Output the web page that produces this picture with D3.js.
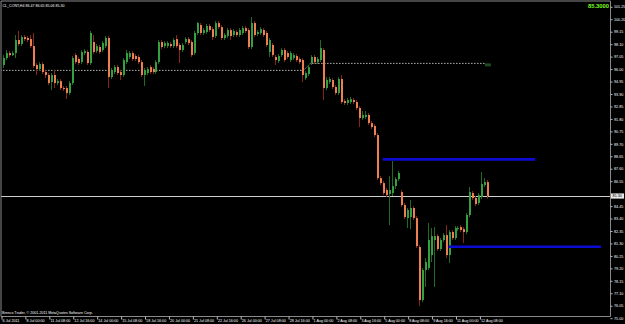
<!DOCTYPE html>
<html>
<head>
<meta charset="utf-8">
<script src="https://cdn.jsdelivr.net/npm/d3@7"></script>
<style>
body { margin: 0; background: #000; }
svg { display: block; }
</style>
</head>
<body>
<script>
// values (H4 bars, 6 Jul - 12 Aug 2011)
var symbol = "CL_CONT,H4";
var lastPrice = 85.30;
var copyright = "Brenco Trader, \u00a9 2001-2011 MetaQuotes Software Corp.";

var opens = [
	96.34, 96.93, 97.35, 97.18, 97.35, 98.45, 98.11, 98.70, 98.62, 98.53,
	97.94, 96.34, 96.00, 96.42, 95.75, 95.50, 94.91, 95.50, 94.82, 94.99,
	94.40, 94.40, 93.98, 94.82, 97.18, 96.85, 96.59, 97.35, 97.44, 96.51,
	98.28, 97.52, 97.86, 97.61, 97.94, 98.62, 95.33, 95.75, 96.17, 95.75,
	95.50, 96.59, 97.02, 97.35, 97.10, 97.02, 96.59, 95.50, 95.67, 96.17,
	96.00, 95.75, 96.59, 98.28, 97.94, 97.94, 98.11, 97.94, 98.53, 98.03,
	97.61, 98.28, 98.53, 98.28, 97.35, 99.04, 99.71, 99.04, 99.12, 99.63,
	99.37, 98.79, 99.88, 99.54, 98.62, 98.79, 99.29, 98.87, 99.12, 98.87,
	99.04, 99.46, 99.29, 97.86, 99.88, 98.95, 99.04, 99.29, 99.04, 97.44,
	98.03, 97.02, 96.68, 97.18, 97.61, 97.35, 96.76, 96.93, 97.10, 96.85,
	96.76, 95.24, 95.58, 96.51, 97.02, 96.59, 96.76, 97.61, 94.40, 94.91,
	95.08, 94.49, 93.98, 95.16, 93.30, 93.14, 93.22, 93.39, 93.22, 92.72,
	91.87, 91.96, 92.13, 91.45, 91.20, 90.44, 86.81, 86.39, 85.80, 85.47,
	85.55, 86.14, 86.73, 85.63, 84.54, 83.44, 83.53, 84.29, 83.44, 81.00,
	76.53, 79.06, 79.23, 80.32, 81.59, 81.92, 80.83, 81.59, 82.01, 80.32,
	82.26, 81.76, 82.51, 82.68, 82.51, 82.26, 83.70, 85.55, 85.13, 84.71,
	85.21, 86.22, 86.47
];
var highs = [
	97.18, 97.61, 97.52, 97.52, 98.87, 99.21, 98.87, 98.87, 98.79, 98.87,
	99.04, 96.51, 96.59, 96.59, 95.92, 95.67, 95.67, 95.92, 95.16, 95.16,
	94.57, 94.57, 94.99, 97.10, 97.35, 97.02, 97.61, 97.69, 97.61, 99.21,
	98.87, 98.11, 98.03, 98.36, 98.79, 98.79, 96.09, 96.34, 96.34, 95.92,
	96.93, 97.61, 97.52, 97.52, 97.27, 97.18, 96.76, 96.09, 96.17, 96.34,
	96.17, 96.76, 98.45, 98.45, 98.36, 98.36, 98.28, 98.62, 98.87, 98.20,
	98.20, 98.70, 98.70, 98.45, 99.21, 99.97, 99.88, 99.46, 99.80, 99.80,
	99.54, 100.05, 100.05, 99.71, 99.04, 99.46, 99.46, 99.37, 99.29, 99.46,
	99.63, 99.63, 99.46, 100.39, 100.05, 99.29, 99.54, 99.46, 99.21, 98.62,
	98.20, 97.18, 97.27, 97.77, 97.77, 97.52, 97.52, 97.35, 97.27, 97.02,
	96.93, 95.83, 96.34, 97.18, 97.18, 97.02, 98.45, 97.77, 95.33, 95.33,
	95.24, 94.65, 95.33, 95.50, 93.47, 93.56, 93.64, 93.56, 93.39, 92.88,
	92.46, 92.46, 92.29, 91.62, 91.37, 90.61, 86.98, 86.56, 85.97, 86.98,
	88.25, 86.90, 87.40, 85.80, 84.71, 84.29, 84.96, 84.45, 83.61, 81.17,
	79.23, 80.07, 83.02, 82.60, 82.68, 82.09, 81.76, 82.18, 82.85, 82.43,
	82.43, 82.77, 82.77, 82.85, 82.68, 83.86, 86.06, 85.72, 85.30, 85.55,
	87.32, 86.81, 86.65
];
var lows = [
	96.09, 96.76, 97.02, 97.10, 96.93, 97.94, 97.94, 98.36, 98.28, 97.77,
	96.09, 95.50, 95.83, 95.58, 95.24, 94.65, 94.23, 94.40, 94.65, 94.23,
	94.15, 93.47, 93.81, 94.65, 96.42, 96.34, 96.42, 97.18, 96.34, 96.34,
	97.27, 97.35, 97.27, 97.44, 97.77, 94.40, 95.16, 95.58, 95.50, 95.08,
	95.33, 96.42, 96.85, 96.68, 96.68, 96.42, 95.33, 94.57, 95.50, 95.58,
	95.58, 95.58, 96.42, 97.69, 97.77, 97.77, 97.77, 97.77, 97.77, 96.51,
	97.44, 98.11, 98.03, 97.02, 97.18, 98.87, 98.87, 98.87, 98.95, 99.12,
	98.45, 98.62, 99.37, 98.45, 98.45, 98.62, 98.45, 98.70, 98.70, 98.70,
	98.87, 99.04, 97.69, 97.69, 98.70, 98.79, 98.87, 98.70, 97.86, 97.02,
	97.02, 96.34, 96.51, 97.02, 96.59, 96.85, 96.59, 96.76, 96.59, 96.42,
	94.91, 95.08, 95.41, 96.34, 96.42, 96.42, 96.59, 93.39, 94.23, 94.74,
	94.32, 93.81, 93.81, 93.05, 92.97, 92.97, 93.05, 93.05, 92.55, 91.11,
	91.70, 91.79, 91.28, 90.95, 90.27, 86.65, 86.22, 85.38, 85.21, 82.85,
	85.30, 85.89, 86.56, 84.37, 83.36, 82.60, 82.51, 83.27, 80.91, 76.02,
	76.36, 77.63, 79.06, 79.73, 77.63, 80.66, 80.66, 81.42, 80.07, 79.65,
	81.59, 81.59, 82.35, 82.26, 81.34, 82.09, 83.53, 84.96, 84.45, 84.54,
	85.04, 86.06, 85.06
];
var closes = [
	96.93, 97.35, 97.18, 97.35, 98.45, 98.11, 98.70, 98.53, 98.45, 97.94,
	96.26, 96.00, 96.42, 95.75, 95.50, 94.82, 95.50, 94.82, 94.99, 94.40,
	94.32, 93.98, 94.82, 96.93, 96.59, 96.51, 97.44, 97.52, 96.51, 99.04,
	97.44, 97.94, 97.44, 98.20, 98.62, 95.33, 95.92, 96.17, 95.67, 95.50,
	96.76, 97.35, 97.35, 96.85, 96.85, 96.59, 95.50, 95.92, 96.00, 95.75,
	95.75, 96.59, 98.28, 97.86, 98.20, 98.20, 97.94, 98.45, 97.94, 97.61,
	98.03, 98.53, 98.20, 97.18, 99.04, 99.88, 99.04, 99.29, 99.63, 99.29,
	98.70, 99.88, 99.54, 98.62, 98.87, 99.29, 98.79, 99.21, 98.87, 99.29,
	99.46, 99.21, 97.86, 99.88, 98.87, 99.12, 99.37, 98.87, 98.03, 98.45,
	97.18, 96.76, 97.10, 97.61, 96.76, 97.02, 97.35, 97.18, 96.76, 96.59,
	95.50, 95.67, 96.17, 97.02, 96.59, 96.85, 97.77, 94.40, 95.08, 95.16,
	94.49, 93.98, 95.16, 93.22, 93.14, 93.39, 93.47, 93.22, 92.72, 91.87,
	92.13, 92.13, 91.45, 91.11, 90.44, 86.81, 86.39, 85.55, 85.38, 85.80,
	86.14, 86.73, 87.24, 84.54, 83.53, 84.12, 84.29, 83.44, 81.08, 76.53,
	79.06, 79.73, 81.59, 81.92, 81.92, 80.83, 81.59, 82.01, 80.32, 82.26,
	81.76, 82.60, 82.60, 82.43, 82.26, 83.70, 85.63, 85.13, 84.62, 85.38,
	86.31, 86.48, 85.30
];

// one label every 8 bars
var tickEvery = 8;
var dateLabels = ["6 Jul 2011", "8 Jul 00:00", "11 Jul 08:00", "12 Jul 16:00", "14 Jul 00:00",
	"15 Jul 08:00", "18 Jul 16:00", "20 Jul 00:00", "21 Jul 08:00", "22 Jul 16:00",
	"26 Jul 00:00", "27 Jul 08:00", "28 Jul 16:00", "1 Aug 00:00", "2 Aug 08:00",
	"3 Aug 16:00", "5 Aug 00:00", "8 Aug 08:00", "9 Aug 16:00", "11 Aug 00:00", "12 Aug 08:00"];

var priceTicks = [75.00, 76.05, 77.10, 78.15, 79.20, 80.25, 81.30, 82.35, 83.40, 84.45,
	86.55, 87.60, 88.65, 89.70, 90.75, 91.80, 92.85, 93.90, 94.95, 96.00,
	97.05, 98.10, 99.15, 100.20, 101.25];

// dotted level line (bar index, price)
var levelBars = [-1, 100.5, 102.8, 161.5];
var levelPrices = [95.89, 95.89, 96.48, 96.48];

// the two blue horizontal lines
var blueStart = [127, 149];
var blueEnd = [178, 200];
var bluePrices = [88.39, 81.02];

// add the svg to the body
var svg = d3.select("body").append("svg");

svgDims = {
	'width': 625,
	'height': 324,
	plot: {
		'left': 1,
		'top': 1,
		'right': 610.5,
		'bottom': 316.5
	}
}

svg.attr("width", svgDims.width)
	.attr("height", svgDims.height)
	.style("background", "#000");

var x = d3.scaleLinear()
	.domain([0, closes.length - 1])
	.range([3, 487.4]);

var y = d3.scaleLinear()
	.domain([75.00, 101.25])
	.range([318.2, 6.8]);

svg.append("clipPath").attr("id", "plot-clip")
	.append("rect")
	.attr("x", svgDims.plot.left)
	.attr("y", svgDims.plot.top)
	.attr("width", svgDims.plot.right - svgDims.plot.left)
	.attr("height", svgDims.plot.bottom - svgDims.plot.top);

var plot = svg.append("g").attr("clip-path", "url(#plot-clip)");

var fontFamily = "Tahoma, 'Liberation Sans', 'DejaVu Sans', sans-serif";

// dotted level line
var levelLine = d3.line()
	.x(function(d) { return x(d[0]); })
	.y(function(d) { return y(d[1]); });

plot.append("path")
	.datum(levelBars.map(function(b, i) { return [b, levelPrices[i]]; }))
	.attr("d", levelLine)
	.attr("fill", "none")
	.attr("stroke", "#b4b4b4")
	.attr("stroke-width", 1)
	.attr("stroke-dasharray", "1.5,1.5");

plot.append("rect")
	.attr("x", x(levelBars[3]) - 1)
	.attr("y", y(levelPrices[3]))
	.attr("width", 6)
	.attr("height", 3)
	.attr("fill", "#1f4a1f");

// current price line
plot.append("line")
	.attr("x1", 0)
	.attr("x2", svgDims.plot.right)
	.attr("y1", Math.round(y(lastPrice)) + 0.5)
	.attr("y2", Math.round(y(lastPrice)) + 0.5)
	.attr("stroke", "#cfcfcf")
	.attr("stroke-width", 1);

// candles
var bars = closes.map(function(c, i) {
	return {i: i, o: opens[i], h: highs[i], l: lows[i], c: c};
});

var candle = plot.selectAll("g.candle")
	.data(bars)
	.enter().append("g")
	.attr("class", "candle");

candle.append("line")
	.attr("x1", function(d) { return Math.round(x(d.i)) + 0.5; })
	.attr("x2", function(d) { return Math.round(x(d.i)) + 0.5; })
	.attr("y1", function(d) { return y(d.h); })
	.attr("y2", function(d) { return y(d.l); })
	.attr("stroke", function(d) { return d.c >= d.o ? "#1f6a25" : "#8a2416"; })
	.attr("stroke-width", 1);

candle.append("rect")
	.attr("x", function(d) { return Math.round(x(d.i)); })
	.attr("y", function(d) { return y(Math.max(d.o, d.c)); })
	.attr("width", 2)
	.attr("height", function(d) { return Math.max(1, Math.abs(y(d.o) - y(d.c))); })
	.attr("fill", function(d) { return d.c >= d.o ? "#34a040" : "#ee7f50"; });

// blue lines
plot.selectAll("line.blue")
	.data(bluePrices)
	.enter().append("line")
	.attr("class", "blue")
	.attr("x1", function(d, i) { return x(blueStart[i]); })
	.attr("x2", function(d, i) { return x(blueEnd[i]); })
	.attr("y1", function(d) { return y(d); })
	.attr("y2", function(d) { return y(d); })
	.attr("stroke", "#0b0bd2")
	.attr("stroke-width", 2.6);

// frame
svg.append("path")
	.attr("d", "M" + svgDims.plot.left + "," + svgDims.plot.bottom +
		"V" + svgDims.plot.top + "H" + svgDims.plot.right +
		"V" + svgDims.plot.bottom + "H" + svgDims.plot.left)
	.attr("fill", "none")
	.attr("stroke", "#8a8a8a")
	.attr("stroke-width", 1);

// price axis on the right
var yAxis = d3.axisRight(y)
	.tickValues(priceTicks)
	.tickSize(2)
	.tickPadding(1.5)
	.tickFormat(d3.format(".2f"));

var yAxisG = svg.append("g")
	.attr("transform", "translate(" + svgDims.plot.right + ",0)")
	.call(yAxis);

yAxisG.select(".domain").remove();
yAxisG.selectAll("line").attr("stroke", "#bbb");
yAxisG.selectAll("text")
	.attr("fill", "#fff")
	.style("font-family", fontFamily)
	.style("font-size", "3.7px");

// time axis along the bottom
var tickBars = d3.range(0, closes.length, tickEvery);

var xAxis = d3.axisBottom(x)
	.tickValues(tickBars)
	.tickSize(3)
	.tickFormat(function(d, i) { return dateLabels[i]; });

var xAxisG = svg.append("g")
	.attr("transform", "translate(-1.5," + svgDims.plot.bottom + ")")
	.call(xAxis);

xAxisG.select(".domain").remove();
xAxisG.selectAll("line").attr("stroke", "#bbb");
xAxisG.selectAll("text")
	.attr("fill", "#fff")
	.attr("text-anchor", "start")
	.attr("y", 2.4)
	.attr("dx", "0.6")
	.attr("dy", "0.71em")
	.style("font-family", fontFamily)
	.style("font-size", "3.7px");

// last price box on the axis
svg.append("rect")
	.attr("x", svgDims.plot.right + 0.5)
	.attr("y", y(lastPrice) - 2.6)
	.attr("width", 13)
	.attr("height", 5.2)
	.attr("fill", "#e8e8e8");

svg.append("text")
	.attr("x", svgDims.plot.right + 2)
	.attr("y", y(lastPrice) + 1.3)
	.attr("fill", "#000")
	.style("font-family", fontFamily)
	.style("font-size", "3.7px")
	.text(d3.format(".2f")(lastPrice));

// header and footer texts
var last = bars[bars.length - 1];
svg.append("text")
	.attr("x", 2.5)
	.attr("y", 6.5)
	.attr("fill", "#fff")
	.style("font-family", fontFamily)
	.style("font-size", "3.6px")
	.text(symbol + "  " + [last.o, last.h, last.l, last.c].map(d3.format(".2f")).join(" "));

svg.append("text")
	.attr("x", 609)
	.attr("y", 7.5)
	.attr("text-anchor", "end")
	.attr("fill", "#7cff1e")
	.style("font-family", fontFamily)
	.style("font-weight", "bold")
	.style("font-size", "5.8px")
	.text(d3.format(".4f")(lastPrice));

svg.append("text")
	.attr("x", 2)
	.attr("y", 314)
	.attr("fill", "#fff")
	.style("font-family", fontFamily)
	.style("font-size", "3.6px")
	.text(copyright);
</script>
</body>
</html>
